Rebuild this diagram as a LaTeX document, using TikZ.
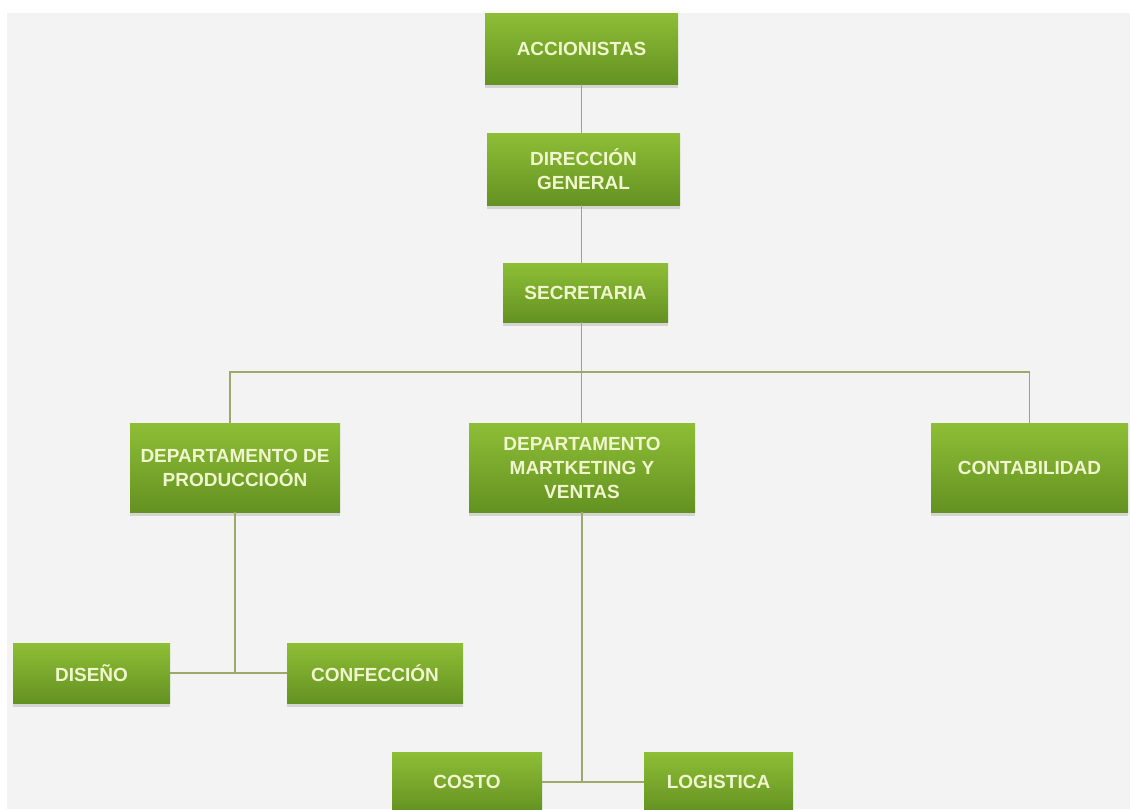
\documentclass[tikz,border=0pt]{standalone}
\usepackage{fontspec}
\setmainfont{Liberation Sans}
\usetikzlibrary{shadows}
\definecolor{boxtop}{RGB}{142,190,54}
\definecolor{boxbot}{RGB}{100,146,34}
\definecolor{boxtext}{RGB}{240,246,206}
\definecolor{linkcol}{RGB}{158,168,104}
\definecolor{pagegray}{RGB}{243,243,243}
\tikzset{
  orgbox/.style={rectangle, draw=none, top color=boxtop, bottom color=boxbot,
    text=boxtext, align=center, inner sep=2pt,
    font=\fontsize{19}{24}\selectfont\bfseries,
    drop shadow={shadow xshift=0pt, shadow yshift=-4pt, opacity=0.18, fill=black!70}},
  link/.style={draw=linkcol, line width=1.6pt}
}
\begin{document}
\begin{tikzpicture}[x=1pt,y=-1pt]
\useasboundingbox (0,0) rectangle (1130,809);
\fill[white] (0,0) rectangle (1130,809);
\fill[pagegray] (7,13) rectangle (1130,809);

% connectors (drawn first, boxes sit on top)
\coordinate (bus) at (583,372);
\coordinate (busleft) at (230,372);

% boxes
\node[orgbox, minimum width=193pt, minimum height=71pt] (acc) at (581.5,48.5) {ACCIONISTAS};
\node[orgbox, minimum width=193pt, minimum height=72pt] (dir) at (583.5,169) {DIRECCIÓN\\GENERAL};
\node[orgbox, minimum width=165pt, minimum height=59pt] (sec) at (585.5,292.5) {SECRETARIA};
\node[orgbox, minimum width=210pt, minimum height=89pt] (prod) at (235,467.5) {DEPARTAMENTO DE\\PRODUCCIOÓN};
\node[orgbox, minimum width=226pt, minimum height=89pt] (mkt) at (582,467.5) {DEPARTAMENTO\\MARTKETING Y\\VENTAS};
\node[orgbox, minimum width=197pt, minimum height=89pt] (cont) at (1029.5,467.5) {CONTABILIDAD};
\node[orgbox, minimum width=157pt, minimum height=60pt] (dis) at (91.5,673) {DISEÑO};
\node[orgbox, minimum width=176pt, minimum height=60pt] (conf) at (375,673) {CONFECCIÓN};
\node[orgbox, minimum width=150pt, minimum height=60pt] (costo) at (467,782) {COSTO};
\node[orgbox, minimum width=149pt, minimum height=60pt] (log) at (718.5,782) {LOGISTICA};

\path[link] (acc.south) -- (acc.south |- dir.north);
\path[link] (acc.south |- dir.south) -- (acc.south |- sec.north);
\path[link] (acc.south |- sec.south) -- (acc.south |- mkt.north);
\path[link] (busleft |- prod.north) -- (busleft) -- (cont.north |- bus) -- (cont.north);
\path[link] (prod.south) -- (prod.south |- dis.east);
\path[link] (dis.east) -- (conf.west);
\path[link] (mkt.south) -- (mkt.south |- costo.east);
\path[link] (costo.east) -- (log.west);
\end{tikzpicture}
\end{document}
